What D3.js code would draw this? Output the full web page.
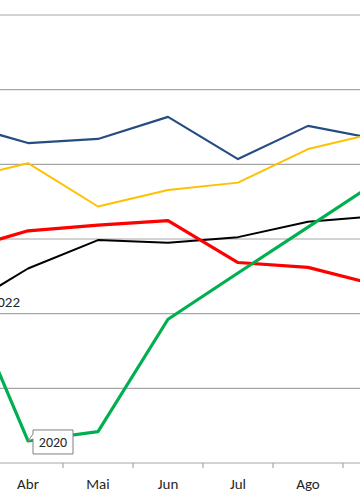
<!DOCTYPE html>
<html><head><meta charset="utf-8">
<script src="https://cdn.jsdelivr.net/npm/d3@7"></script>
<style>body{margin:0;background:#fff}svg{display:block}</style>
</head><body>
<script>
const months = ["Mar","Abr","Mai","Jun","Jul","Ago","Set"];
const blue   = [91.1, 85.7, 86.8, 92.7, 81.4, 90.3, 86.7];
const yellow = [75.8, 80.3, 68.7, 73.1, 75.1, 84.1, 88.5];
const black  = [40.7, 52.1, 59.7, 59.0, 60.5, 64.6, 66.2];
const red    = [56.7, 62.2, 63.7, 64.9, 53.7, 52.4, 47.6];
const green  = [50.1, 5.9, 8.4, 38.5, 50.9, 63.2, 75.5];
const gridValues = [20, 40, 60, 80, 100, 120];

const W = 360, H = 504;
const FONT = "Carlito, 'Liberation Sans', Arial, sans-serif";
const svg = d3.select("body").append("svg").attr("width", W).attr("height", H);
const x = d3.scalePoint().domain(months).range([-42, 378]);
const y = d3.scaleLinear().domain([0, 120]).range([463, 15]);
const step = x.step();

svg.append("g").selectAll("line").data(gridValues).join("line")
  .attr("x1", 0).attr("x2", W).attr("y1", d => y(d)).attr("y2", d => y(d))
  .attr("stroke", "#a6a6a6").attr("stroke-width", 1.2);

// x axis
const ax = svg.append("g");
ax.append("line").attr("x1", 0).attr("x2", W).attr("y1", y(0)).attr("y2", y(0))
  .attr("stroke", "#a6a6a6").attr("stroke-width", 1.2);
ax.selectAll("line.t").data(months).join("line").attr("class","t")
  .attr("x1", d => x(d) + step/2).attr("x2", d => x(d) + step/2)
  .attr("y1", y(0)).attr("y2", y(0) + 5)
  .attr("stroke", "#a6a6a6").attr("stroke-width", 1.2);
ax.selectAll("text").data(months.filter(m => x(m) > 0 && x(m) < W)).join("text")
  .attr("x", d => x(d)).attr("y", 489)
  .attr("text-anchor", "middle")
  .attr("font-family", FONT)
  .attr("font-size", 15).attr("fill", "#262626").text(d => d);

const line = d3.line().x((d, i) => x(months[i])).y(d => y(d));
const series = [
  {v: blue, c: "#264d82", w: 2.2},
  {v: yellow, c: "#ffc000", w: 2},
  {v: black, c: "#000000", w: 2},
  {v: red, c: "#ff0000", w: 3.2},
  {v: green, c: "#00b050", w: 3.2}
];
svg.append("g").selectAll("path").data(series).join("path")
  .attr("d", d => line(d.v)).attr("fill", "none")
  .attr("stroke", d => d.c).attr("stroke-width", d => d.w)
  .attr("stroke-linejoin", "round");

// label 2022 near black series start (partly outside the view, as in the reference)
svg.append("text").attr("x", x("Mar") + 62).attr("y", y(black[0]) - 4.5)
  .attr("text-anchor", "end")
  .attr("font-family", FONT)
  .attr("font-size", 15).attr("fill", "#262626").text("2022");

// callout 2020 at green Abr point
const px = x("Abr"), py = y(green[1]);
const bx = px + 5, by = py - 11, bw = 40, bh = 24;
svg.append("path")
  .attr("d", `M${bx},${by} H${bx+bw} V${by+bh} H${bx} V${by+9} L${px},${py} L${bx},${by+4} Z`)
  .attr("fill", "#fff").attr("stroke", "#7f7f7f").attr("stroke-width", 1);
svg.append("text").attr("x", bx + bw/2).attr("y", by + 17)
  .attr("text-anchor", "middle")
  .attr("font-family", FONT)
  .attr("font-size", 14).attr("fill", "#262626").text("2020");
</script>
</body></html>
